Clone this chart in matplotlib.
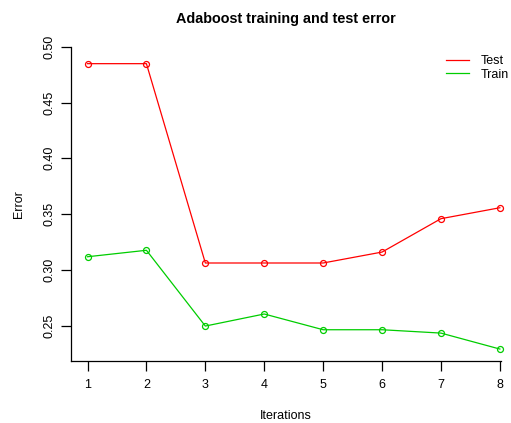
import matplotlib.pyplot as plt

plt.rcParams['font.family'] = ['Liberation Sans', 'DejaVu Sans']

iterations = [1, 2, 3, 4, 5, 6, 7, 8]
test_error = [0.4848, 0.4848, 0.3062, 0.3062, 0.3062, 0.3160, 0.3459, 0.3557]
train_error = [0.3118, 0.3176, 0.2497, 0.2605, 0.2464, 0.2464, 0.2434, 0.2291]
y_ticks = [0.25, 0.30, 0.35, 0.40, 0.45, 0.50]

fig = plt.figure(figsize=(5.11, 4.23), dpi=100)
ax = fig.add_axes([0.139, 0.1466, 0.8415, 0.743])

line_kw = dict(marker='o', markersize=4.3, markerfacecolor='none',
               markeredgewidth=0.9, linewidth=0.9, clip_on=False)
ax.plot(iterations, test_error, color='#FF0000', label='Test', **line_kw)
ax.plot(iterations, train_error, color='#00CD00', label='Train', **line_kw)

ax.set_xlim(0.72, 8.02)
ax.set_ylim(0.2184, 0.50)
ax.set_xticks(iterations)
ax.set_yticks(y_ticks)
ax.set_yticklabels(['%.2f' % v for v in y_ticks], rotation=90, va='center')

for side in ['top', 'right']:
    ax.spines[side].set_visible(False)
for side in ['left', 'bottom']:
    ax.spines[side].set_linewidth(0.9)
ax.tick_params(direction='out', length=7, width=0.9, labelsize=9)
ax.tick_params(axis='x', pad=5.8)
ax.tick_params(axis='y', pad=4.4)

ax.set_xlabel('Iterations', fontsize=9, labelpad=14)
ax.set_ylabel('Error', fontsize=9, labelpad=13.3)
ax.set_title('Adaboost training and test error', fontsize=10.4,
             fontweight='bold', pad=17)

fig.legend([plt.Line2D([], [], color='#FF0000', linewidth=0.9),
            plt.Line2D([], [], color='#00CD00', linewidth=0.9)],
           ['Test', 'Train'], loc='upper left',
           bbox_to_anchor=(446 / 511, 1 - 55 / 423), frameon=False,
           fontsize=9, borderpad=0, borderaxespad=0,
           handlelength=1.85, handletextpad=0.9, labelspacing=0.15)

fig.savefig('out.png', dpi=100)
